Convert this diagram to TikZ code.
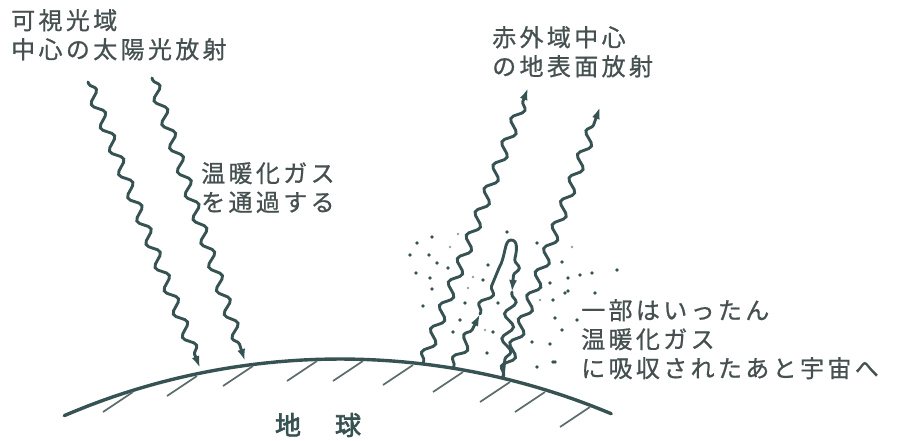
\documentclass[tikz,border=0pt]{standalone}
\usepackage{fontspec}
\newfontfamily\jp[LetterSpace=14,FakeBold=0.8]{Noto Sans CJK JP}
\newfontfamily\jpbold[FakeBold=2.5]{Noto Sans CJK JP}
\usetikzlibrary{decorations.pathmorphing,arrows.meta}
\definecolor{ink}{RGB}{55,82,82}
\definecolor{inktext}{RGB}{70,80,80}
\definecolor{hatchink}{RGB}{92,108,108}

\begin{document}
\begin{tikzpicture}[x=1pt,y=-1pt,
  wave/.style={ink, line width=2.9pt, line cap=round, decorate,
    decoration={snake, amplitude=5.2pt, segment length=25pt, pre length=2pt, post length=9pt}},
  tip/.style={-{Latex[length=12pt,width=8pt]}},
  label/.style={inktext, font=\jp\fontsize{24}{29}\selectfont, align=left,
    inner sep=0pt, anchor=north west},
  hatchline/.style={hatchink, line width=1.7pt},
  dot/.style={ink},
  faint/.style={ink!55}
]
\useasboundingbox (0,0) rectangle (899,440);

% ground surface
\draw[ink, line width=3.4pt, line cap=round]
  plot[domain=-23.2:22.8, samples=90] ({340+700*sin(\x)},{1059-700*cos(\x)});

% hatching below the surface
\foreach \t/\h in {133/392, 197/376, 253/366, 317/361, 363/361, 413/365,
                   463/372, 510/382, 545/392, 590/407}
  \draw[hatchline] (\t,\h) -- ++(-30,20);

% greenhouse gas stippling
\foreach \p in {(417,243),(432,237),(410,255),(429,255),(437,263),(416,273),
  (430,278),(432,289),(423,306),(448,268),(488,265),(507,232),(537,243),
  (562,262),(550,283),(568,278),(592,273),(568,291),(553,300),(532,342),
  (550,344),(537,367),(553,362),(487,353),(460,320),(498,303),(453,332),
  (617,270),(580,275),(565,293),(595,293),(555,318),(577,320),(562,330),
  (555,362),(483,280),(465,303),(493,332)}
  \fill[dot] \p circle (1.8pt);
\foreach \p in {(458,234),(450,247),(468,288),(473,277),(572,247),(485,330),
  (520,318),(540,300)}
  \fill[faint] \p circle (1.4pt);

% named end points of the radiation paths
\coordinate (s1a) at (88,82);   \coordinate (s1b) at (200,368);
\coordinate (s2a) at (152,78);  \coordinate (s2b) at (245,361);
\coordinate (r1a) at (423,363); \coordinate (r1b) at (528,88);
\coordinate (r3a) at (503,377); \coordinate (r3b) at (600,107);
\coordinate (g1) at (453,368);  \coordinate (g2) at (480,314);
\coordinate (g3) at (499,268);  \coordinate (g4) at (515,258);
\coordinate (g5) at (512,292);  \coordinate (g6) at (503,377);

% incoming sunlight
\draw[wave, tip] (s1a) -- (s1b);
\draw[wave, tip] (s2a) -- (s2b);

% outgoing infrared
\draw[wave, tip] (r1a) -- (r1b);
\draw[wave, tip] (r3a) -- (r3b);

% infrared absorbed by the gas and sent back
\draw[wave, tip] (g1) -- (g2);
\draw[wave] (g2) -- (g3);
\draw[ink, line width=2.9pt] (g3) .. controls (506,256) and (504,240) .. (511,240)
  .. controls (518,240) and (517,250) .. (g4);
\draw[wave, tip] (g4) -- (g5);
\draw[wave] (g5) -- (g6);

% labels
\node[label] (sun)  at (11,9)    {可視光域\\中心の太陽光放射};
\node[label] (pass) at (201,162) {温暖化ガス\\を通過する};
\node[label] (ir)   at (492,26)  {赤外域中心\\の地表面放射};
\node[label] (part) at (581,299) {一部はいったん\\温暖化ガス\\に吸収されたあと宇宙へ};
\node[ink, font=\jpbold\fontsize{26}{30}\selectfont, inner sep=0pt]
  (earth) at (318,425) {地\hspace{34pt}球};
\end{tikzpicture}
\end{document}
